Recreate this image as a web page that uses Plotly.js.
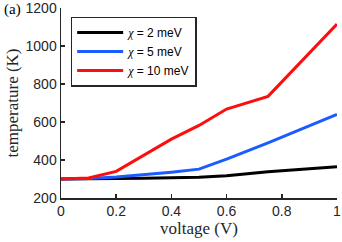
<!DOCTYPE html>
<html><head><meta charset="utf-8">
<script src="https://cdn.plot.ly/plotly-3.0.1.min.js"></script>
<style>html,body{margin:0;padding:0;background:#fff}#c{width:342px;height:242px}</style>
</head><body><div id="c"></div>
<script>
const voltage = [0, 0.1, 0.2, 0.3, 0.4, 0.5, 0.6, 0.75, 1];
const temp2 = [300, 300, 302, 304, 306, 309, 317, 338, 365];
const temp5 = [300, 302, 310, 322, 336, 352, 405, 490, 640];
const temp10 = [300, 305, 340, 425, 510, 582, 668, 735, 1115];
const seriesNames = ['<i style="font-family:Liberation Serif">χ</i> = 2 meV', '<i style="font-family:Liberation Serif">χ</i> = 5 meV', '<i style="font-family:Liberation Serif">χ</i> = 10 meV'];
const colors = ['#000000', '#1a5cff', '#ff0d0d'];
const xTicks = [0, 0.2, 0.4, 0.6, 0.8, 1];
const xTickText = ['0', '0.2', '0.4', '0.6', '0.8', '1'];
const yTicks = [200, 400, 600, 800, 1000, 1200];

const ys = [temp2, temp5, temp10];
const traces = ys.map((y, i) => ({
  x: voltage, y: y, type: 'scatter', mode: 'lines', name: seriesNames[i],
  line: {color: colors[i], width: 3}
}));
const axisCol = '#262626';
const serif = 'Liberation Serif, Times New Roman, serif';
const layout = {
  width: 342, height: 242,
  margin: {l: 61, r: 5, t: 8, b: 44},
  paper_bgcolor: '#fff', plot_bgcolor: '#fff',
  font: {family: 'Liberation Sans, Arial, sans-serif', size: 14, color: axisCol},
  showlegend: true,
  legend: {x: 0.035, y: 0.955, xanchor: 'left', yanchor: 'top', bordercolor: axisCol, borderwidth: 1.5,
    bgcolor: '#fff', font: {size: 12, color: '#000'}, itemwidth: 46, tracegroupgap: 0},
  xaxis: {range: [0, 1], tickvals: xTicks, ticktext: xTickText, ticks: 'inside', ticklen: 4, tickwidth: 1.5,
    ticklabeloverflow: 'allow',
    tickcolor: axisCol, showline: true, linecolor: axisCol, linewidth: 1.5, showgrid: false, zeroline: false,
    title: {text: 'voltage (V)', font: {family: serif, size: 17, color: axisCol}, standoff: 2}},
  yaxis: {range: [200, 1200], tickvals: yTicks, ticks: 'inside', ticklen: 4, tickwidth: 1.5,
    ticklabeloverflow: 'allow',
    tickcolor: axisCol, showline: true, linecolor: axisCol, linewidth: 1.5, showgrid: false, zeroline: false,
    title: {text: 'temperature (K)', font: {family: serif, size: 17, color: axisCol}, standoff: 2}},
  annotations: [{text: '(a)', xref: 'paper', yref: 'paper', x: -0.215, y: 0.99, xanchor: 'left', yanchor: 'middle',
    showarrow: false, font: {family: serif, size: 15, color: '#000'}}]
};
Plotly.newPlot('c', traces, layout, {staticPlot: true, displayModeBar: false});
</script></body></html>
